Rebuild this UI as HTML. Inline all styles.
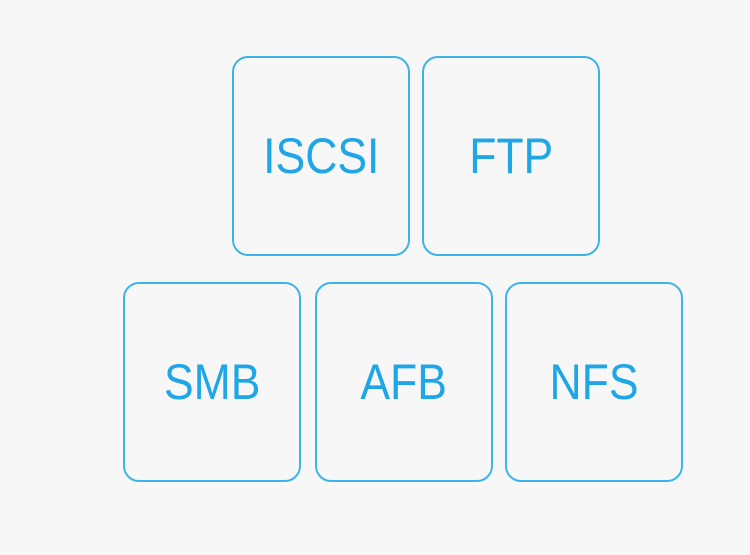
<!DOCTYPE html>
<html><head><style>
body{margin:0;width:750px;height:555px;background:#f7f7f7;position:relative;overflow:hidden;font-family:"Liberation Sans",sans-serif}
.b{position:absolute;width:174px;height:196px;border:2px solid #3db3ec;border-radius:16px;box-sizing:content-box;display:flex;align-items:center;justify-content:center;color:#1fa6e6;font-size:50px;font-weight:normal}
.b span{display:inline-block;transform:scaleX(0.89)}
</style></head><body>
<div class="b" style="left:232px;top:56px"><span>ISCSI</span></div>
<div class="b" style="left:422px;top:56px"><span>FTP</span></div>
<div class="b" style="left:123px;top:282px"><span>SMB</span></div>
<div class="b" style="left:315px;top:282px"><span>AFB</span></div>
<div class="b" style="left:505px;top:282px"><span>NFS</span></div>
</body></html>
